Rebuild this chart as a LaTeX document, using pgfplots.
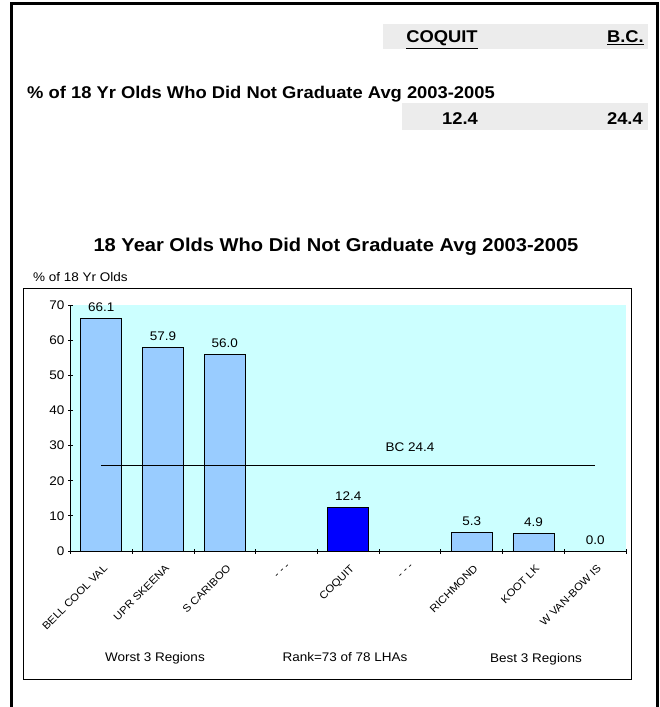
\documentclass[border=0pt]{standalone}
\usepackage{fontspec}
\setmainfont{Liberation Sans}[FakeStretch=1.08]
\usepackage{pgfplots}
\pgfplotsset{compat=1.18}
\definecolor{bgcyan}{RGB}{204,255,255}
\definecolor{barblue}{RGB}{153,204,255}
\definecolor{hlblue}{RGB}{0,0,255}
\definecolor{hdrgray}{RGB}{236,236,236}
\newcommand\sm{\fontsize{12.5bp}{15bp}\selectfont}
\newcommand\hd{\fontsize{17bp}{20bp}\selectfont\bfseries}
\begin{document}
\begin{tikzpicture}
\begin{scope}[x=1bp,y=-1bp]
\useasboundingbox (0,0) rectangle (660,707);
\fill[hdrgray] (383,24) rectangle (648,49);
\fill[hdrgray] (402,103) rectangle (648,130);
\draw[line width=3bp] (11,707) -- (11,4) -- (657,4) -- (657,707);
\node[anchor=base, font=\hd, inner sep=0pt] at (442,43) {\underline{COQUIT}};
\node[anchor=base east, font=\hd, inner sep=0pt] at (644,43) {\underline{B.C.}};
\node[anchor=base west, font=\hd, inner sep=0pt] at (27,99) {\% of 18 Yr Olds Who Did Not Graduate Avg 2003-2005};
\node[anchor=base, font=\hd, inner sep=0pt] at (460,125) {12.4};
\node[anchor=base east, font=\hd, inner sep=0pt] at (643,125) {24.4};
\node[anchor=base, font=\fontsize{18.6bp}{22bp}\selectfont\bfseries, inner sep=0pt] at (336,251) {18 Year Olds Who Did Not Graduate Avg 2003-2005};
\draw[line width=1bp] (23,288) rectangle (631,679);
\node[anchor=base west, font=\sm, inner sep=0pt] at (33,281.5) {\% of 18 Yr Olds};
\node[anchor=base, font=\sm, inner sep=0pt] at (155,661.5) {Worst 3 Regions};
\node[anchor=base, font=\sm, inner sep=0pt] at (345,661.5) {Rank=73 of 78 LHAs};
\node[anchor=base, font=\sm, inner sep=0pt] at (536,662.5) {Best 3 Regions};
\end{scope}
\begin{axis}[
  at={(70.5bp,-551bp)}, anchor=south west,
  scale only axis, width=555.5bp, height=246bp,
  xmin=-0.5, xmax=8.5, ymin=0, ymax=70,
  axis x line*=bottom, axis y line*=left,
  axis line style={-, black, line width=0.8bp},
  axis background/.style={fill=bgcyan},
  ytick={0,10,...,70},
  tick align=center, major tick length=5bp, minor tick length=5bp,
  tick style={black, line width=0.8bp},
  xtick={0,...,8},
  xticklabels={BELL COOL VAL, UPR SKEENA, S CARIBOO, - - -, COQUIT, - - -, RICHMOND, KOOT LK, W VAN-BOW IS},
  major x tick style={draw=none},
  minor xtick={-0.5,0.5,...,8.5},
  xticklabel style={rotate=45, anchor=north east, xshift=-3bp, yshift=-5bp, font=\fontsize{10.5bp}{12bp}\selectfont},
  yticklabel style={font=\sm},
  /pgf/number format/assume math mode=true,
  clip=false,
]
\addplot[ybar, bar width=41bp, bar shift=0pt, fill=barblue, draw=black, line width=0.8bp,
  nodes near coords={\pgfmathprintnumber[fixed,fixed zerofill,precision=1]{\pgfplotspointmeta}},
  every node near coord/.append style={font=\sm, yshift=3bp}]
  coordinates {(0,66.1) (1,57.9) (2,56.0) (6,5.3) (7,4.9) (8,0.0)};
\addplot[ybar, bar width=41bp, bar shift=0pt, fill=hlblue, draw=black, line width=0.8bp,
  nodes near coords={\pgfmathprintnumber[fixed,fixed zerofill,precision=1]{\pgfplotspointmeta}},
  every node near coord/.append style={font=\sm, yshift=3bp}]
  coordinates {(4,12.4)};
\addplot[black, line width=1bp] coordinates {(0,24.4) (8,24.4)};
\node[font=\sm] at (axis cs:5,24.4) [yshift=18bp] {BC 24.4};
\end{axis}
\end{tikzpicture}
\end{document}
